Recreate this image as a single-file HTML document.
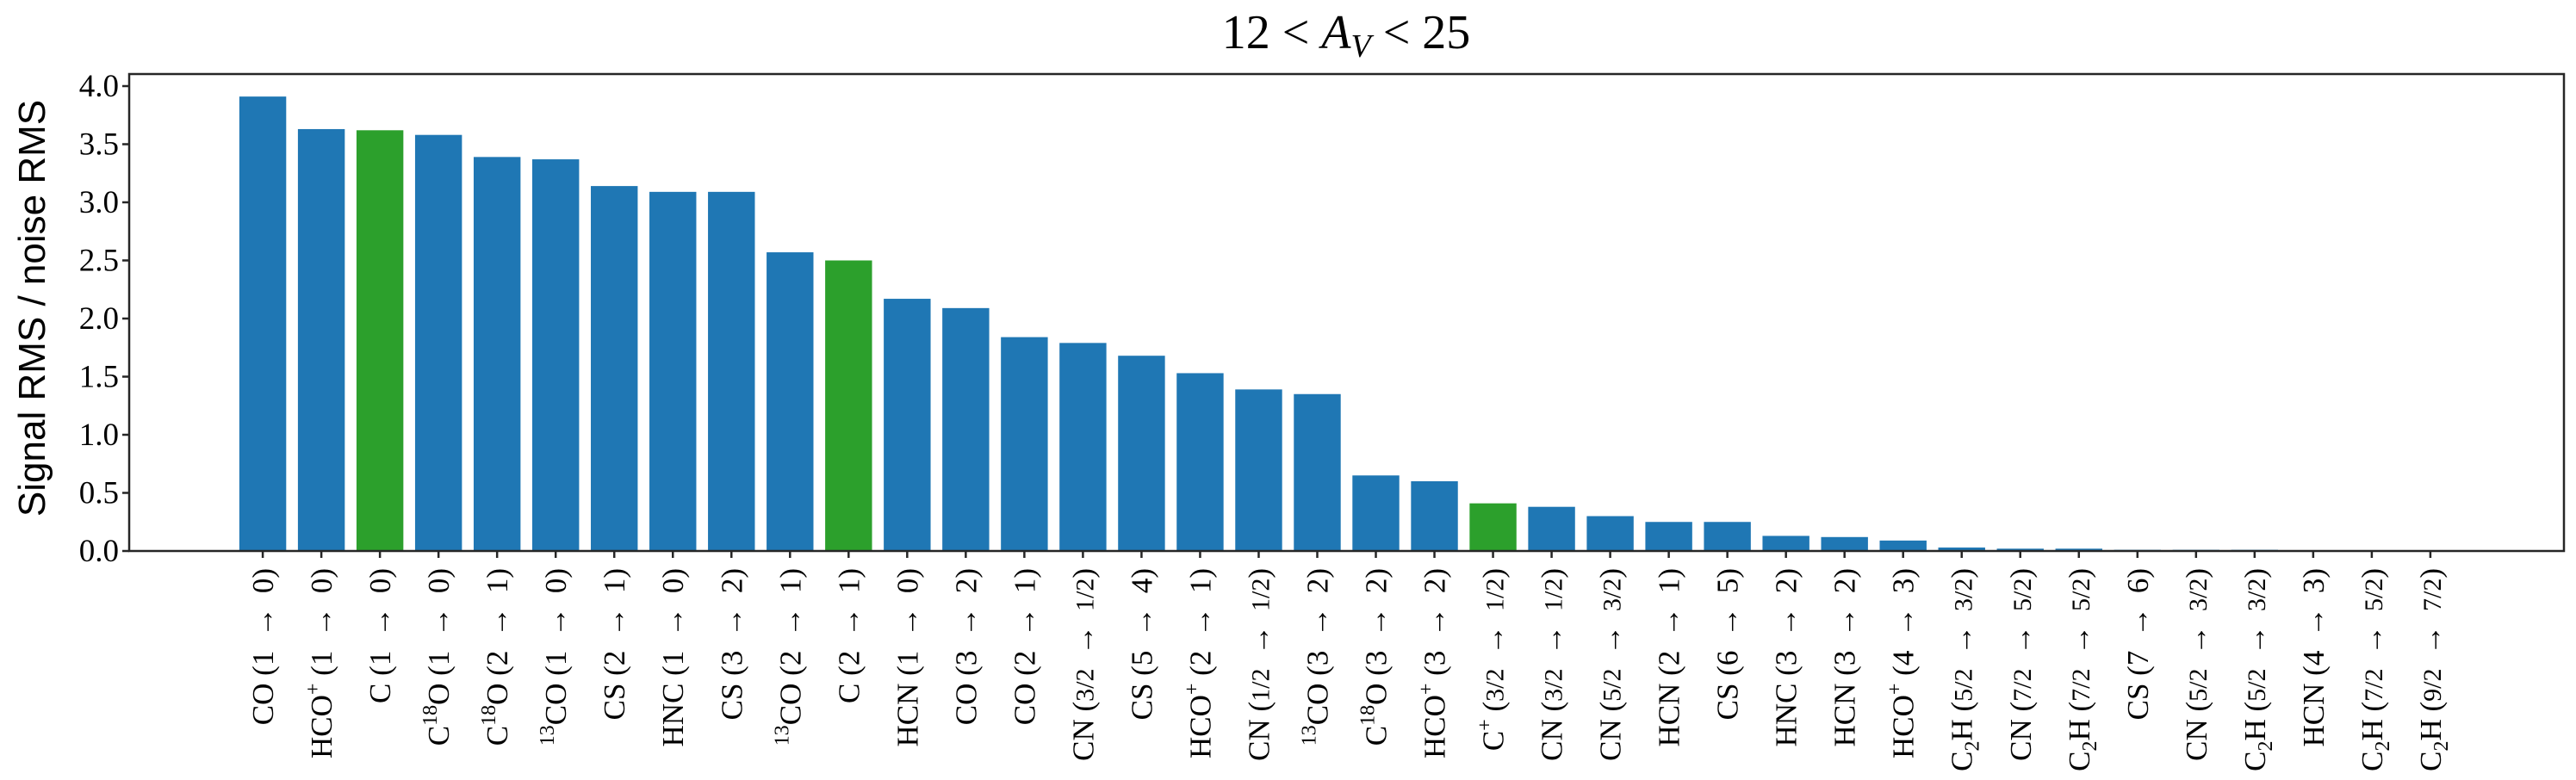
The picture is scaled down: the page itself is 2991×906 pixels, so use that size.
<!DOCTYPE html>
<html>
<head>
<meta charset="utf-8">
<style>
  html,body{margin:0;padding:0;background:#fff;}
  svg{display:block;}
  text{font-family:"Liberation Serif","DejaVu Serif",serif;fill:#000;}
</style>
</head>
<body>
<svg id="chart" width="2991" height="906" viewBox="0 0 2991 906" xmlns="http://www.w3.org/2000/svg">
  <text x="1563" y="56" text-anchor="middle" font-size="56">12 &lt; <tspan font-style="italic">A</tspan><tspan font-style="italic" font-size="38" dy="10">V</tspan><tspan dy="-10"> &lt; 25</tspan></text>
  <text transform="translate(52,358) rotate(-90)" text-anchor="middle" font-size="44" style="font-family:'Liberation Sans','DejaVu Sans',sans-serif">Signal RMS / noise RMS</text>
  <g id="bars"></g>
  <g id="yticks"></g>
  <g id="xticks"></g>
  <rect x="150" y="86" width="2827" height="554" fill="none" stroke="#262626" stroke-width="2.5"/>
</svg>
<script>
const categories = ["CO","HCO+","C","C18O","C18O","13CO","CS","HNC","CS","13CO","C","HCN","CO","CO","CN","CS","HCO+","CN","13CO","C18O","HCO+","C+","CN","CN","HCN","CS","HNC","HCN","HCO+","C2H","CN","C2H","CS","CN","C2H","HCN","C2H","C2H"];
const upperLevels = ["1","1","1","1","2","1","2","1","3","2","2","1","3","2","3/2","5","2","1/2","3","3","3","3/2","3/2","5/2","2","6","3","3","4","5/2","7/2","7/2","7","5/2","5/2","4","7/2","9/2"];
const lowerLevels = ["0","0","0","0","1","0","1","0","2","1","1","0","2","1","1/2","4","1","1/2","2","2","2","1/2","1/2","3/2","1","5","2","2","3","3/2","5/2","5/2","6","3/2","3/2","3","5/2","7/2"];
const values = [3.91,3.63,3.62,3.58,3.39,3.37,3.14,3.09,3.09,2.57,2.50,2.17,2.09,1.84,1.79,1.68,1.53,1.39,1.35,0.65,0.60,0.41,0.38,0.30,0.25,0.25,0.13,0.12,0.09,0.03,0.02,0.02,0.01,0.01,0.01,0.005,0.005,0.005];
const highlighted = [2,10,21];
const yTicks = [0,0.5,1.0,1.5,2.0,2.5,3.0,3.5,4.0];
const yTickLabels = ["0.0","0.5","1.0","1.5","2.0","2.5","3.0","3.5","4.0"];

const NS="http://www.w3.org/2000/svg";
const plotL=150, plotR=2977, plotT=86, plotB=640;
const yMax=(plotB-plotT)/135;
const xMin=-2.28, xMax=categories.length-1+2.28;
function xScale(i){return plotL+(i-xMin)/(xMax-xMin)*(plotR-plotL);}
function yScale(v){return plotB-v/yMax*(plotB-plotT);}
const step=xScale(1)-xScale(0);
const bw=step*0.8;

const barsG=document.getElementById('bars');
values.forEach((v,i)=>{
  const r=document.createElementNS(NS,'rect');
  r.setAttribute('x',xScale(i)-bw/2);
  r.setAttribute('y',yScale(v));
  r.setAttribute('width',bw);
  r.setAttribute('height',Math.max(0,plotB-yScale(v)));
  r.setAttribute('fill',highlighted.includes(i)?'#2ca02c':'#1f77b4');
  
  
  barsG.appendChild(r);
});

const yG=document.getElementById('yticks');
yTicks.forEach((t,k)=>{
  const y=yScale(t);
  const l=document.createElementNS(NS,'line');
  l.setAttribute('x1',plotL-8);l.setAttribute('x2',plotL);
  l.setAttribute('y1',y);l.setAttribute('y2',y);
  l.setAttribute('stroke','#262626');l.setAttribute('stroke-width','2.5');
  
  
  yG.appendChild(l);
  const tx=document.createElementNS(NS,'text');
  tx.setAttribute('x',plotL-12);tx.setAttribute('y',y+12);
  tx.setAttribute('text-anchor','end');tx.setAttribute('font-size','37');
  tx.textContent=yTickLabels[k];
  
  
  yG.appendChild(tx);
});

function addSpecies(t,name){
  const parts=[];
  let m;
  if((m=name.match(/^13(.*)$/))){parts.push(['13','sup']);parts.push([m[1],'n']);}
  else if(name==='C18O'){parts.push(['C','n']);parts.push(['18','sup']);parts.push(['O','n']);}
  else if((m=name.match(/^(.*)\+$/))){parts.push([m[1],'n']);parts.push(['+','sup']);}
  else if(name==='C2H'){parts.push(['C','n']);parts.push(['2','sub']);parts.push(['H','n']);}
  else parts.push([name,'n']);
  let shift=0;
  parts.forEach(p=>{
    const s=document.createElementNS(NS,'tspan');
    let dy=0,fs=35;
    if(p[1]==='sup'){dy=-14-shift;fs=24;shift=-14;}
    else if(p[1]==='sub'){dy=8-shift;fs=24;shift=8;}
    else {dy=-shift;shift=0;}
    s.setAttribute('dy',dy);s.setAttribute('font-size',fs);
    s.textContent=p[0];
    t.appendChild(s);
  });
  return shift;
}
function addLevel(t,lv){
  const s=document.createElementNS(NS,'tspan');
  s.setAttribute('font-size',lv.includes('/')?'30':'35');
  s.textContent=lv;
  t.appendChild(s);
}
const xG=document.getElementById('xticks');
categories.forEach((c,i)=>{
  const x=xScale(i);
  const l=document.createElementNS(NS,'line');
  l.setAttribute('x1',x);l.setAttribute('x2',x);
  l.setAttribute('y1',plotB);l.setAttribute('y2',plotB+8);
  l.setAttribute('stroke','#262626');l.setAttribute('stroke-width','2.5');
  
  
  xG.appendChild(l);
  const t=document.createElementNS(NS,'text');
  t.setAttribute('transform','translate('+(x+12)+','+(plotB+20)+') rotate(-90)');
  t.setAttribute('text-anchor','end');t.setAttribute('font-size','35');
  
  
  let sh=addSpecies(t,c);
  const a=document.createElementNS(NS,'tspan');a.setAttribute('dy',-sh);a.setAttribute('font-size','35');a.textContent=' (';t.appendChild(a);
  addLevel(t,upperLevels[i]);
  const b=document.createElementNS(NS,'tspan');b.setAttribute('font-size','35');b.textContent=' \u2009\u2192\u2009 ';t.appendChild(b);
  addLevel(t,lowerLevels[i]);
  const e=document.createElementNS(NS,'tspan');e.setAttribute('font-size','35');e.textContent=')';t.appendChild(e);
  xG.appendChild(t);
});
</script>
</body>
</html>
